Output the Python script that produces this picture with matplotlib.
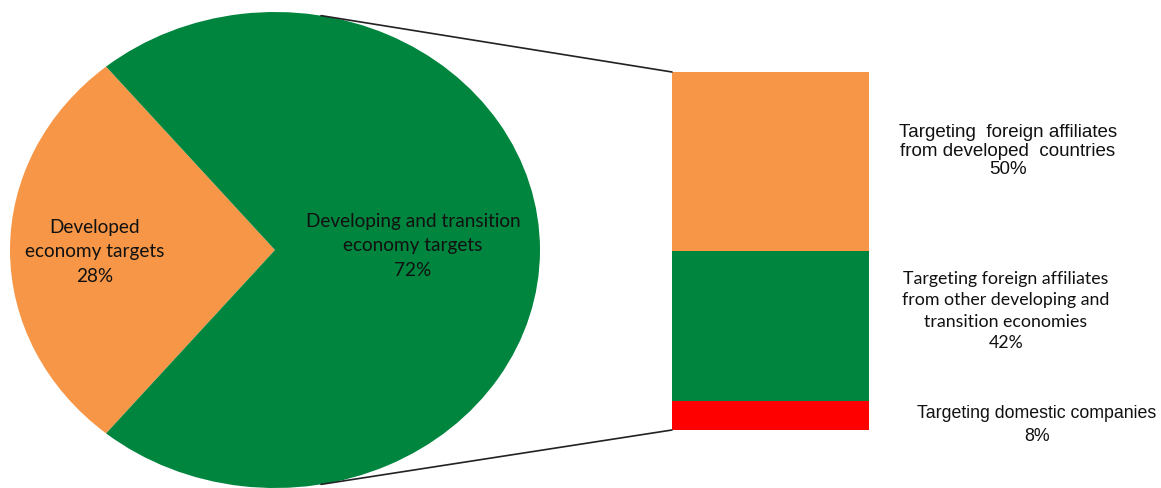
import numpy as np
import matplotlib
matplotlib.use("Agg")
import matplotlib.pyplot as plt
from matplotlib.patches import ConnectionPatch

# pie data
pie_labels = ["Developed\neconomy targets", "Developing and transition\neconomy targets"]
pie_values = [28, 72]
pie_colors = ["#F79646", "#00853E"]

# breakdown of the 72% slice (top to bottom)
bar_labels = ["Targeting  foreign affiliates\nfrom developed  countries",
              "Targeting foreign affiliates\nfrom other developing and\ntransition economies",
              "Targeting domestic companies"]
bar_values = [50, 42, 8]
bar_colors = ["#F79646", "#00853E", "#FF0000"]

W, H = 1161, 488
fig = plt.figure(figsize=(W / 100, H / 100), dpi=100)

# pie axes, stretched so the pie becomes the ellipse of the original
ax_pie = fig.add_axes([10 / W, 0, 530 / W, 476 / H])
start = 180 - pie_values[0] / 100 * 360 / 2
ax_pie.pie(pie_values, colors=pie_colors, startangle=start, radius=1,
           wedgeprops=dict(linewidth=0))
ax_pie.set_aspect("auto")
ax_pie.set_xlim(-1, 1)
ax_pie.set_ylim(-1, 1)
ax_pie.axis("off")

# stacked bar
ax_bar = fig.add_axes([672 / W, (H - 430) / H, 197 / W, 358 / H])
bottom = 0
for v, c in zip(bar_values[::-1], bar_colors[::-1]):
    ax_bar.bar(0, v, width=1, bottom=bottom, color=c, linewidth=0)
    bottom += v
ax_bar.set_xlim(-0.5, 0.5)
ax_bar.set_ylim(0, sum(bar_values))
ax_bar.axis("off")

# connector lines from the pie edge to the bar corners
for ang, ybar in [(80, sum(bar_values)), (-80, 0)]:
    a = np.deg2rad(ang)
    con = ConnectionPatch(xyA=(np.cos(a), np.sin(a)), coordsA=ax_pie.transData,
                          xyB=(-0.5, ybar), coordsB=ax_bar.transData,
                          color="#222222", linewidth=1.2)
    fig.add_artist(con)

# overlay for text, in pixel coordinates
ov = fig.add_axes([0, 0, 1, 1])
ov.set_xlim(0, W)
ov.set_ylim(H, 0)
ov.axis("off")
ov.patch.set_alpha(0)

calibri = ["Lato", "DejaVu Sans"]
arial = ["Liberation Sans", "DejaVu Sans"]

ov.text(95, 252, f"{pie_labels[0]}\n{pie_values[0]}%", ha="center", va="center",
        fontsize=13.7, family=calibri, linespacing=1.5, color="#111111")
ov.text(413, 246, f"{pie_labels[1]}\n{pie_values[1]}%", ha="center", va="center",
        fontsize=13.7, family=calibri, linespacing=1.5, color="#111111")

ov.text(1008, 151, f"{bar_labels[0]}\n{bar_values[0]}%", ha="center", va="center",
        fontsize=13.5, family=arial, linespacing=1.1, color="#111111")
ov.text(1006, 311, f"{bar_labels[1]}\n{bar_values[1]}%", ha="center", va="center",
        fontsize=12.8, family=calibri, linespacing=1.4, color="#111111")
ov.text(1037, 425, f"{bar_labels[2]}\n{bar_values[2]}%", ha="center", va="center",
        fontsize=12.8, family=arial, linespacing=1.4, color="#111111")

fig.savefig("out.png", dpi=100)
